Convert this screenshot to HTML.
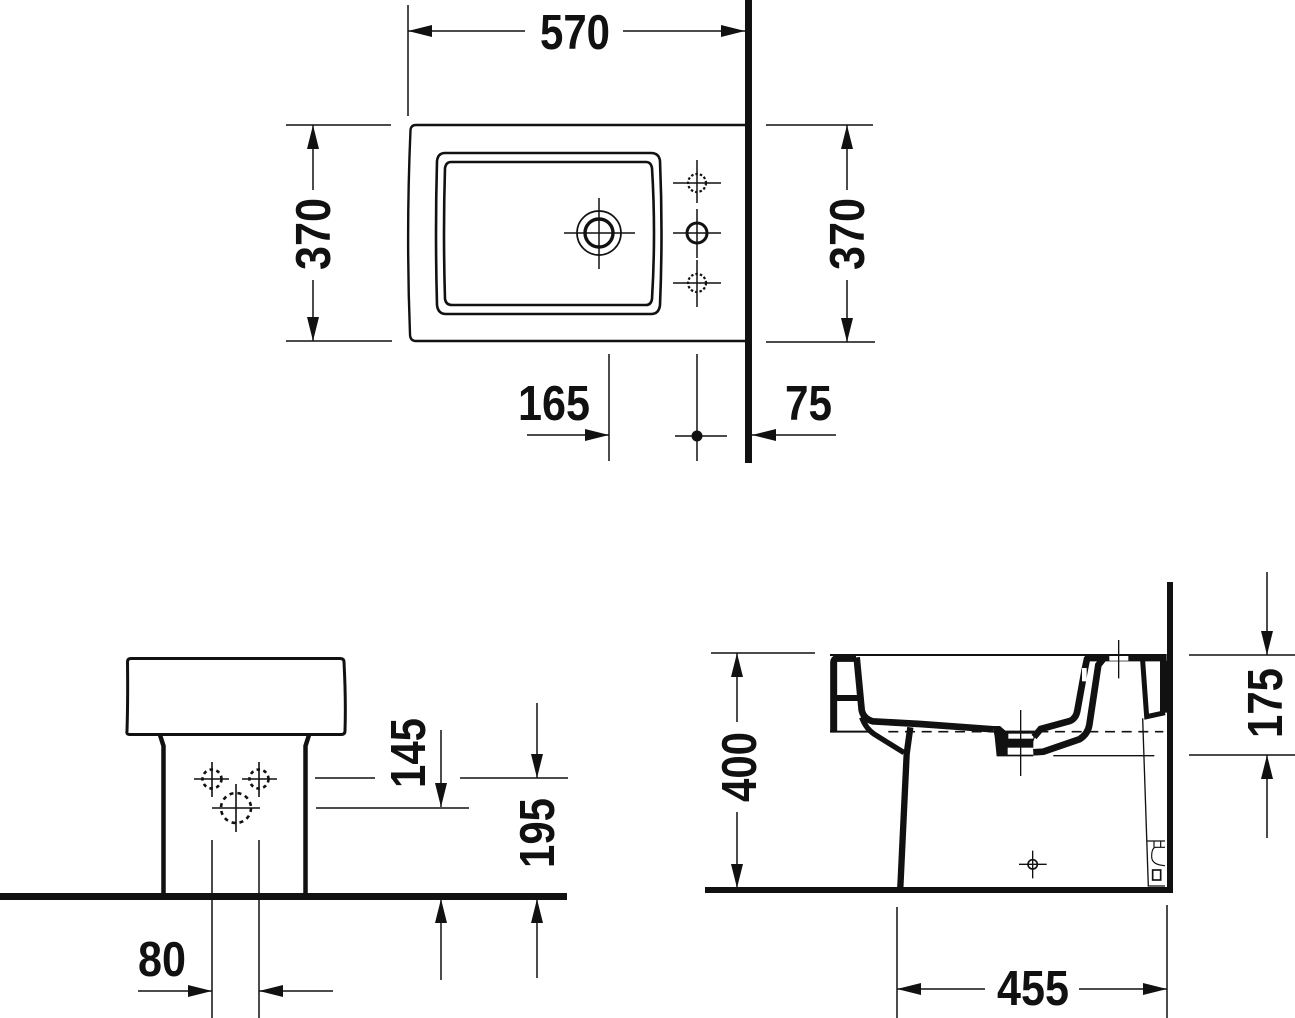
<!DOCTYPE html>
<html><head><meta charset="utf-8"><style>
html,body{margin:0;padding:0;background:#fff}
svg{display:block}
text{font-family:"Liberation Sans",Arial,sans-serif;font-weight:bold;font-size:49px;fill:#111}
</style></head><body>
<svg width="1295" height="1018" viewBox="0 0 1295 1018" xmlns="http://www.w3.org/2000/svg">
<defs><marker id="a" markerUnits="userSpaceOnUse" markerWidth="26" markerHeight="14" refX="24" refY="7" orient="auto"><path d="M0 1L24 7L0 13Z" fill="#111"/></marker></defs>
<rect width="1295" height="1018" fill="#fff"/>

<!-- dimension lines -->
<g stroke="#111" stroke-width="1.5" fill="none">
<path d="M408 5V116M286 125H391M286 341H392M766 125H873M766 342H875M609 354V461M697 354V461M675 436H727"/>
<path d="M525 31H408" marker-end="url(#a)"/><path d="M623 31H745" marker-end="url(#a)"/>
<path d="M313 190V125" marker-end="url(#a)"/><path d="M313 280V341" marker-end="url(#a)"/>
<path d="M847 190V125" marker-end="url(#a)"/><path d="M847 280V342" marker-end="url(#a)"/>
<path d="M527 435H609" marker-end="url(#a)"/><path d="M836 435H752" marker-end="url(#a)"/>
<path d="M315 778H375M316 808H469M460 778H568M212 840V1018M259 840V1018"/>
<path d="M441 730V807" marker-end="url(#a)"/><path d="M441 980V899" marker-end="url(#a)"/>
<path d="M537 703V778" marker-end="url(#a)"/><path d="M537 978V899" marker-end="url(#a)"/>
<path d="M138 991H212" marker-end="url(#a)"/><path d="M333 991H259" marker-end="url(#a)"/>
<path d="M711 653H815M1189 655H1295M1189 755H1295M897 907V1018M1167 905V1018"/>
<path d="M737 722V653" marker-end="url(#a)"/><path d="M737 812V888" marker-end="url(#a)"/>
<path d="M1267 572V655" marker-end="url(#a)"/><path d="M1267 838V755" marker-end="url(#a)"/>
<path d="M985 989H897" marker-end="url(#a)"/><path d="M1079 989H1167" marker-end="url(#a)"/>
</g>
<circle cx="697" cy="436" r="5.5" fill="#111"/>

<!-- top view -->
<rect x="745" y="0" width="7" height="463" fill="#111"/>
<g fill="none" stroke="#111">
<path stroke-width="2.400" d="M745 125H416Q411 125 410.500 130Q406 233 410 334Q410 341 416 341H745"/>
<path stroke-width="2.600" d="M445 153H651Q659 153 660 161Q663 233 660 305Q659 314 651 314H446Q438 314 437 305Q435 233 437 161Q438 153 445 153Z"/>
<path stroke-width="2.600" d="M451 162H646Q651 162 652 168Q656 233 652 299Q651 305 646 305H452Q446 305 445 299Q443 233 445 168Q446 162 451 162Z"/>
<circle cx="599" cy="233" r="22" stroke-width="1.700"/>
<circle cx="599" cy="233" r="14" stroke-width="3.400"/>
<path stroke-width="1.500" d="M564 233H635M599 198V269M673 183H721M697 160V203M673 233H721M697 209V258M673 283H721M697 260V307"/>
<circle cx="697" cy="183" r="9" stroke-width="2.200" stroke-dasharray="2.500 2"/>
<circle cx="697" cy="233" r="10" stroke-width="3"/>
<circle cx="697" cy="283" r="9" stroke-width="2.200" stroke-dasharray="2.500 2"/>
</g>

<!-- front view -->
<rect x="0" y="893" width="567" height="7" fill="#111"/>
<g fill="none" stroke="#111">
<path stroke-width="3" d="M131 658.500H340Q344 658.500 344 662Q346 700 345 731Q345 734.500 341 734.500H130Q126 734.500 127 731Q128 700 127.500 662Q127.500 658.500 131 658.500Z"/>
<path stroke-width="4.500" d="M160 735L163.500 746V893M309 735L305.500 746V893"/>
<path stroke-width="1.600" d="M194 779H229M212 762V797M242 779H277M259 762V797M212 808H260M236 784V832"/>
<circle cx="212" cy="779" r="9.500" stroke-width="2.600" stroke-dasharray="3.500 3.500"/>
<circle cx="259" cy="779" r="9.500" stroke-width="2.600" stroke-dasharray="3.500 3.500"/>
<circle cx="236" cy="808" r="15" stroke-width="2.600" stroke-dasharray="4 4"/>
</g>

<!-- section view -->
<rect x="705" y="887" width="468" height="6" fill="#111"/>
<rect x="1167" y="582" width="6" height="311" fill="#111"/>
<g transform="translate(820 640) scale(.33333)" fill="none" stroke="#111">
<path stroke-width="6" d="M30 45H1040M30 275H150"/>
<path stroke-width="21" d="M41 276V68Q41 55 54 55H108"/>
<path stroke-width="18" d="M50 174H118"/>
<path stroke-width="20" d="M110 52L125 210Q130 236 158 244L300 252L520 268"/>
<path stroke-width="16" d="M125 232Q137 265 162 282L252 338"/>
<path stroke-width="19" d="M271 262L260 342L241 742"/>
<path fill="#111" stroke="none" d="M518 258L540 258L556 272L652 272L640 305L640 349H530L524 290Z"/>
<rect x="565" y="281" width="75" height="15" fill="#fff" stroke="none"/>
<rect x="563" y="323" width="77" height="21" fill="#fff" stroke="none"/>
<path stroke-width="20" d="M642 291L662 267L750 243Q768 235 772 212L795 85L802 52"/>
<path stroke-width="20" d="M640 337L670 335L778 298Q803 283 808 255L835 75L852 54"/>
<rect x="786" y="84" width="14" height="40" fill="#fff" stroke="none"/>
<path fill="#111" stroke="none" d="M795 46H1040V64H795Z"/>
<rect x="868" y="48" width="57" height="14" fill="#fff" stroke="none"/>
<path stroke-width="15" d="M968 62L980 230L1035 218"/>
<rect x="1020" y="62" width="22" height="156" fill="#111" stroke="none"/>
<path stroke-width="4" d="M968 235L985 740M700 347H1003M896 0V115M602 210V408"/>
<path stroke-width="5" stroke-dasharray="30 20" d="M205 275H1030"/>
<path stroke-width="4" d="M597 673H680M638 632V715"/>
<circle cx="638" cy="673" r="14" stroke-width="5"/>
<path stroke-width="3.500" d="M982 603H1035M1002 603V622M1022 603V622M1035 622H1008Q995 622 995 650Q995 675 1035 677M985 738H1035"/>
<rect x="998" y="690" width="24" height="30" stroke-width="5"/>
</g>

<!-- labels -->
<text x="540" y="49" textLength="70" lengthAdjust="spacingAndGlyphs">570</text>
<text transform="translate(330 270) rotate(-90)" textLength="72" lengthAdjust="spacingAndGlyphs">370</text>
<text transform="translate(864 270) rotate(-90)" textLength="72" lengthAdjust="spacingAndGlyphs">370</text>
<text x="518" y="420" textLength="72" lengthAdjust="spacingAndGlyphs">165</text>
<text x="785" y="420" textLength="47" lengthAdjust="spacingAndGlyphs">75</text>
<text transform="translate(425 788) rotate(-90)" textLength="70" lengthAdjust="spacingAndGlyphs">145</text>
<text transform="translate(554 868) rotate(-90)" textLength="70" lengthAdjust="spacingAndGlyphs">195</text>
<text x="138" y="976" textLength="48" lengthAdjust="spacingAndGlyphs">80</text>
<text transform="translate(756 802) rotate(-90)" textLength="70" lengthAdjust="spacingAndGlyphs">400</text>
<text transform="translate(1282 738) rotate(-90)" textLength="70" lengthAdjust="spacingAndGlyphs">175</text>
<text x="997" y="1005" textLength="72" lengthAdjust="spacingAndGlyphs">455</text>
</svg>
</body></html>
